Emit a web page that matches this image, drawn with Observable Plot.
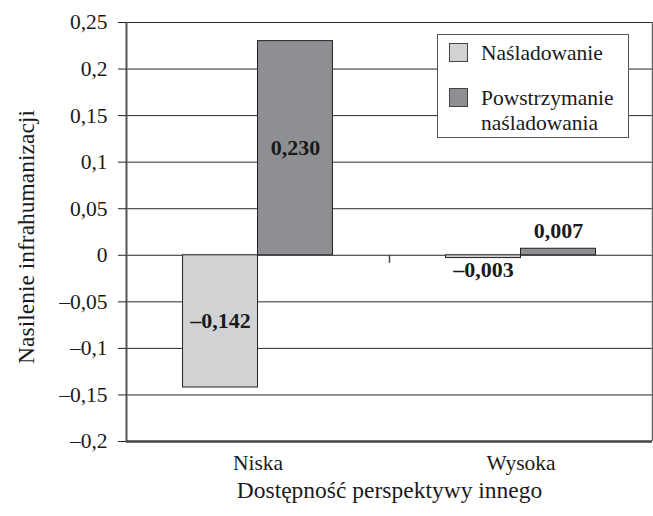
<!DOCTYPE html>
<html><head><meta charset="utf-8">
<script src="https://cdn.jsdelivr.net/npm/d3@7"></script>
<script src="https://cdn.jsdelivr.net/npm/@observablehq/plot@0.6"></script>
<style>
body{margin:0;background:#fff;}
#wrap{position:relative;width:653px;height:516px;font-family:'Liberation Serif','DejaVu Serif',serif;color:#1a1a1a;}
#wrap svg{display:block;}
#wrap svg text{font-family:'Liberation Serif','DejaVu Serif',serif;}
#legend{position:absolute;left:437px;top:34px;width:190px;height:102px;border:1px solid #555;background:#fff;font-size:21.5px;line-height:25px;}
.sw{position:absolute;left:11px;width:19px;height:19px;border:1px solid #444;box-sizing:border-box;}
.lab{position:absolute;left:43px;white-space:nowrap;}
</style>
</head><body>
<div id="wrap"></div>
<script>
const groups = ["Niska", "Wysoka"];
const series = ["Naśladowanie", "Powstrzymanie naśladowania"];
const legendLines = [["Naśladowanie"], ["Powstrzymanie", "naśladowania"]];
const imitation = [-0.142, -0.003];
const suppression = [0.230, 0.007];
const colors = ["#d1d2d4", "#8e8f93"];
const yTicks = [-0.2, -0.15, -0.1, -0.05, 0, 0.05, 0.1, 0.15, 0.2, 0.25];
const yLabel = "Nasilenie infrahumanizacji";
const xLabel = "Dostępność perspektywy innego";

const loc = d3.formatLocale({decimal: ",", thousands: " ", grouping: [3], currency: ["", ""], minus: "\u2013"});
const fmtTick = loc.format(".2~f");
const fmtVal = loc.format(".3f");

const barW = 0.285;
const seriesVals = [imitation, suppression];
const bars = [];
groups.forEach((g, gi) => {
  series.forEach((s, si) => {
    const v = seriesVals[si][gi];
    bars.push({group: g, gi, series: s, si, value: v, x1: gi + (si - 1) * barW, x2: gi + si * barW});
  });
});
const big = bars.filter(d => Math.abs(d.value) > 0.05);
const smallPos = bars.filter(d => Math.abs(d.value) <= 0.05 && d.value >= 0);
const smallNeg = bars.filter(d => Math.abs(d.value) <= 0.05 && d.value < 0);
const xc = d => (d.x1 + d.x2) / 2;

const FONT = "'Liberation Serif','DejaVu Serif',serif";
const textStyle = {fontFamily: FONT, fontSize: 21.5, fill: "#1a1a1a"};
const titleStyle = {...textStyle, fontSize: 23.5, lineAnchor: "middle", textAnchor: "middle"};
const bold = {...textStyle, fontWeight: "bold", fontSize: 22, text: d => fmtVal(d.value), x: xc, lineAnchor: "middle"};

const chart = Plot.plot({
  width: 653, height: 516,
  marginLeft: 126, marginRight: 1, marginTop: 22, marginBottom: 75,
  style: {fontFamily: FONT, fontSize: "21.5px", color: "#1a1a1a", background: "white"},
  x: {domain: [-0.5, 1.5]},
  y: {domain: [-0.2, 0.25]},
  color: {domain: series, range: colors},
  marks: [
    Plot.ruleY(yTicks, {stroke: "#2a2a2a", strokeWidth: 1}),
    Plot.ruleX([-0.5], {stroke: "#555", strokeWidth: 2}),
    Plot.ruleX([1.5], {stroke: "#666", strokeWidth: 1.5}),
    Plot.ruleY([-0.2], {stroke: "#444", strokeWidth: 2.5}),
    Plot.ruleX([0.5], {y1: 0, y2: 0, insetBottom: -8, stroke: "#444", strokeWidth: 1.5}),
    Plot.rect(bars, {x1: "x1", x2: "x2", y1: 0, y2: "value", fill: "series", stroke: "#222", strokeWidth: 1}),
    Plot.axisY({ticks: yTicks, tickFormat: fmtTick, tickSize: 8, tickPadding: 11, label: null, fontSize: 21.5, stroke: "#222"}),
    Plot.axisX({ticks: groups.map((g, i) => i), tickFormat: i => groups[i], tickSize: 0, tickPadding: 13, label: null, fontSize: 21.5}),
    Plot.text(big, {...bold, y: d => d.value / 2}),
    Plot.text(smallPos, {...bold, y: "value", dy: -18}),
    Plot.text(smallNeg, {...bold, y: "value", dy: 12}),
    Plot.text([yLabel], {...titleStyle, frameAnchor: "left", rotate: -90, dx: -100, dy: 5}),
    Plot.text([xLabel], {...titleStyle, frameAnchor: "bottom", dy: 48.5})
  ]
});
const wrap = document.getElementById("wrap");
wrap.appendChild(chart);

const leg = document.createElement("div");
leg.id = "legend";
const swTops = [8, 53];
const labTops = [6, 51];
legendLines.forEach((lines, i) => {
  const sw = document.createElement("div");
  sw.className = "sw";
  sw.style.top = swTops[i] + "px";
  sw.style.background = colors[i];
  leg.appendChild(sw);
  const lab = document.createElement("div");
  lab.className = "lab";
  lab.style.top = labTops[i] + "px";
  lab.innerHTML = lines.join("<br>");
  leg.appendChild(lab);
});
wrap.appendChild(leg);
</script>
</body></html>
